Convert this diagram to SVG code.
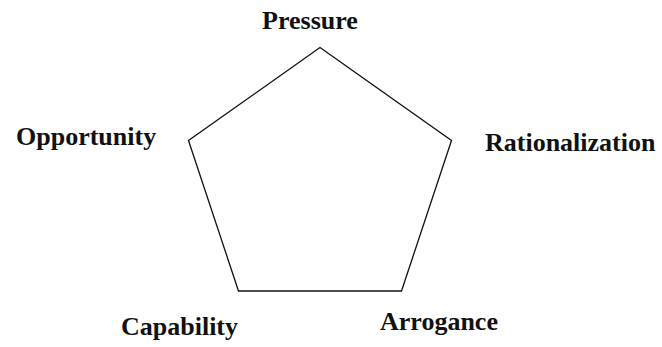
<svg xmlns="http://www.w3.org/2000/svg" width="662" height="347" viewBox="0 0 662 347">
<style>
.lbl{font-family:"Liberation Serif","Times New Roman",serif;font-weight:bold;font-size:26px;fill:#111}
.edge{fill:none;stroke:#111;stroke-width:1.3;stroke-linejoin:miter}
</style>
<rect width="662" height="347" fill="#fff"/>
<g id="connectors">
<path class="edge" d="M320,47.5 L451.5,140.5 L401.5,291 L238.5,291 L188.5,140.5 Z"/>
</g>
<g id="node-pressure"><text class="lbl" x="310" y="29" text-anchor="middle">Pressure</text></g>
<g id="node-opportunity"><text class="lbl" x="16" y="145">Opportunity</text></g>
<g id="node-rationalization"><text class="lbl" x="485" y="151">Rationalization</text></g>
<g id="node-capability"><text class="lbl" x="121" y="335">Capability</text></g>
<g id="node-arrogance"><text class="lbl" x="380" y="330">Arrogance</text></g>
</svg>
